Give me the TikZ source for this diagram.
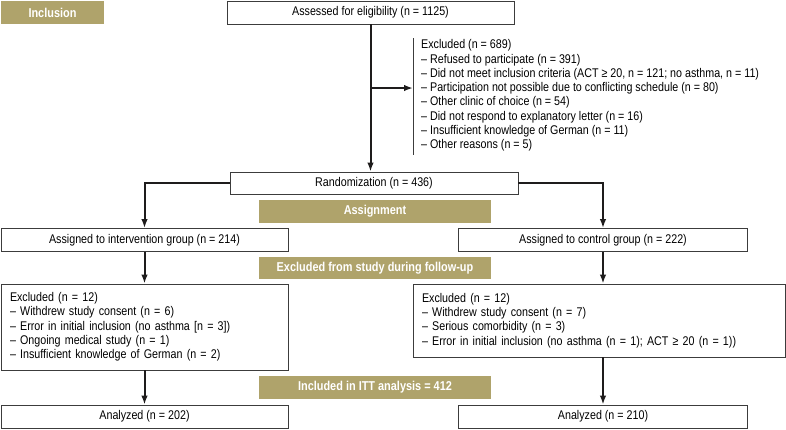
\documentclass[tikz,border=0pt]{standalone}
\usepackage{fontspec}
\setmainfont[FakeStretch=0.85]{Liberation Sans}
\usetikzlibrary{arrows.meta}
\definecolor{banner}{RGB}{175,163,107}
\definecolor{boxline}{RGB}{60,60,60}
\definecolor{arrowc}{RGB}{30,28,28}
\begin{document}
\begin{tikzpicture}[x=1pt,y=-1pt,
  box/.style={draw=boxline, line width=0.8pt, fill=white, inner sep=0pt, font=\fontsize{12.6}{14.3}\selectfont},
  bannerbox/.style={fill=banner, text=white, inner sep=0pt, font=\bfseries\fontsize{12.85}{15}\selectfont},
  listtext/.style={inner sep=0pt, align=left, font=\fontsize{12.6}{14.3}\selectfont},
  arr/.style={draw=arrowc, line width=2pt, -{Latex[length=9pt,width=6.5pt]}},
  bracket/.style={draw=boxline, line width=0.8pt}
  ]
\useasboundingbox (0,0) rectangle (786,429);
\node[bannerbox, minimum width=103pt, minimum height=23pt] (incl) at (52.5,12.5) {Inclusion};
\node[box, minimum width=287pt, minimum height=23pt] (assess) at (370.5,12.5) {Assessed for eligibility (n = 1125)};
\node[listtext, anchor=west] (excl) at (421,95.5) {Excluded (n = 689)\\
– Refused to participate (n = 391)\\
– Did not meet inclusion criteria (ACT ≥ 20, n = 121; no asthma, n = 11)\\
– Participation not possible due to conflicting schedule (n = 80)\\
– Other clinic of choice (n = 54)\\
– Did not respond to explanatory letter (n = 16)\\
– Insufficient knowledge of German (n = 11)\\
– Other reasons (n = 5)};
\coordinate (bt) at (413,38);
\coordinate (bb) at (413,155);
\coordinate (brk) at (413,88);
\draw[bracket] (bt) -- (bb);
\node[box, minimum width=288pt, minimum height=22pt] (rand) at (374,183) {Randomization (n = 436)};
\node[bannerbox, minimum width=232pt, minimum height=22.5pt] (assign) at (375,211.5) {Assignment};
\node[box, minimum width=287pt, minimum height=23pt] (interv) at (144.5,240) {Assigned to intervention group (n = 214)};
\node[box, minimum width=289pt, minimum height=23pt] (ctrl) at (603,240) {Assigned to control group (n = 222)};
\node[bannerbox, minimum width=232pt, minimum height=22.5pt] (follow) at (375,268) {Excluded from study during follow-up};
\node[box, minimum width=287pt, minimum height=86pt, text width=269pt, align=left] (exclL) at (144.5,327) {Excluded (n = 12)\\
– Withdrew study consent (n = 6)\\
– Error in initial inclusion (no asthma [n = 3])\\
– Ongoing medical study (n = 1)\\
– Insufficient knowledge of German (n = 2)};
\node[box, minimum width=372pt, minimum height=73pt, text width=354pt, align=left] (exclR) at (599,320.5) {Excluded (n = 12)\\
– Withdrew study consent (n = 7)\\
– Serious comorbidity (n = 3)\\
– Error in initial inclusion (no asthma (n = 1); ACT ≥ 20 (n = 1))};
\node[bannerbox, minimum width=232pt, minimum height=23pt] (itt) at (375,387.5) {Included in ITT analysis = 412};
\node[box, minimum width=287pt, minimum height=23pt] (anaL) at (144.5,416.5) {Analyzed (n = 202)};
\node[box, minimum width=289pt, minimum height=23pt] (anaR) at (603,416.5) {Analyzed (n = 210)};
\draw[arr] (assess.south) -- (assess.south |- rand.north);
\draw[arr] (assess.south |- brk) -- (brk);
\draw[arr] (rand.west) -| (interv.north);
\draw[arr] (rand.east) -| (ctrl.north);
\draw[arr] (interv.south) -- (exclL.north);
\draw[arr] (ctrl.south) -- (ctrl.south |- exclR.north);
\draw[arr] (exclL.south) -- (anaL.north);
\draw[arr] (ctrl.south |- exclR.south) -- (anaR.north);
\end{tikzpicture}
\end{document}
